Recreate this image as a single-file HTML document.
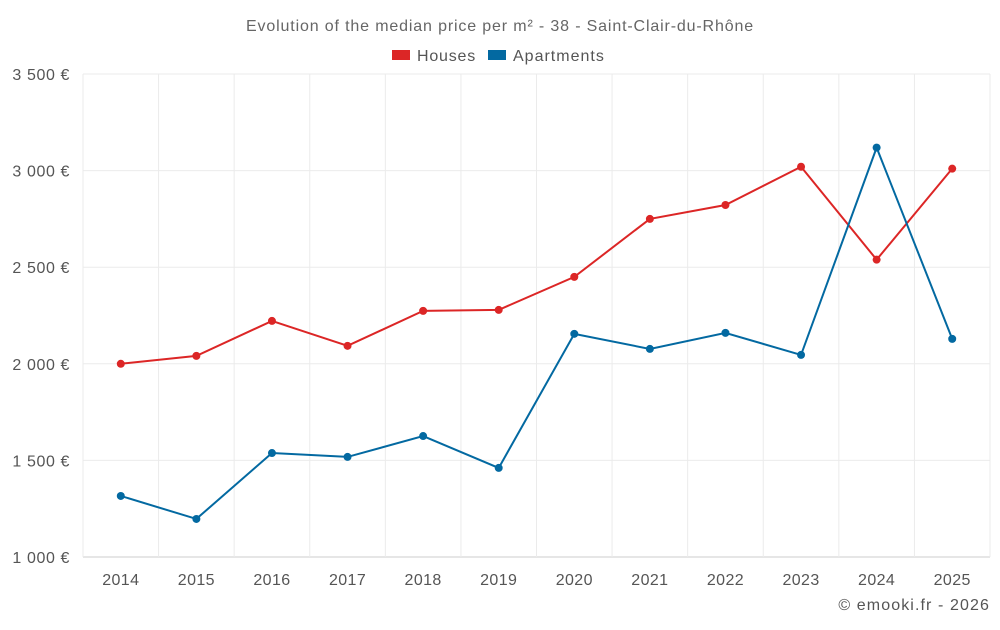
<!DOCTYPE html>
<html><head><meta charset="utf-8"><style>
body{margin:0;background:#fff;font-family:"Liberation Sans",sans-serif;}
svg text{font-family:"Liberation Sans",sans-serif;}
</style></head><body>
<svg id="chart" width="1000" height="625">
<text x="500" y="31" text-anchor="middle" font-size="16" letter-spacing="0.85" fill="#666">Evolution of the median price per m² - 38 - Saint-Clair-du-Rhône</text>
<g>
<g><rect x="392" y="50" width="18" height="10" fill="#dc2626"/><text x="417" y="61" font-size="16" letter-spacing="0.8" fill="#555">Houses</text></g>
<g><rect x="488" y="50" width="18" height="10" fill="#0369a1"/><text x="513" y="61" font-size="16" letter-spacing="1" fill="#555">Apartments</text></g>
</g>
<g id="grid"></g><g id="axes"></g><g id="series"></g>
<text x="990" y="610" text-anchor="end" font-size="16" letter-spacing="1.1" fill="#555">© emooki.fr - 2026</text>
</svg>
<script>
const years=[2014,2015,2016,2017,2018,2019,2020,2021,2022,2023,2024,2025];
const houses=[2000,2041,2222,2093,2274,2279,2450,2750,2822,3020,2539,3010];
const apartments=[1316,1197,1538,1518,1626,1461,2155,2077,2160,2046,3119,2129];
const yTicks=[1000,1500,2000,2500,3000,3500];
const yLabels=["1 000 €","1 500 €","2 000 €","2 500 €","3 000 €","3 500 €"];
const L=83,R=990,T=74,B=557,ymin=1000,ymax=3500;
const bw=(R-L)/years.length;
const x=i=>L+bw*(i+0.5);
const y=v=>B-(v-ymin)/(ymax-ymin)*(B-T);
const NS="http://www.w3.org/2000/svg";
function mk(p,tag,at){const e=document.createElementNS(NS,tag);for(const k in at)e.setAttribute(k,at[k]);p.appendChild(e);return e;}
const g=document.getElementById('grid'),a=document.getElementById('axes'),s=document.getElementById('series');
yTicks.forEach((t,i)=>{
 const l=mk(g,'line',{x1:L,x2:R,y1:y(t),y2:y(t),stroke:i==0?'#ccc':'#ebebeb'});
 
 
 const tx=mk(a,'text',{x:70,y:y(t)+6,'text-anchor':'end','font-size':16,'letter-spacing':0.6,fill:'#555'});tx.textContent=yLabels[i];
 
 
});
for(let i=0;i<=years.length;i++){
 const l=mk(g,'line',{x1:L+bw*i,x2:L+bw*i,y1:T,y2:B,stroke:'#ebebeb'});
 
 
}
years.forEach((yr,i)=>{
 const tx=mk(a,'text',{x:x(i),y:585,'text-anchor':'middle','font-size':16,'letter-spacing':0.4,fill:'#555'});tx.textContent=yr;
 
 
});
function series(d,c,n){
 const p=mk(s,'polyline',{points:d.map((v,i)=>x(i)+','+y(v)).join(' '),fill:'none',stroke:c,'stroke-width':2});
 
 
 d.forEach((v,i)=>{const ci=mk(s,'circle',{cx:x(i),cy:y(v),r:4,fill:c});
 
 });
}
series(houses,'#dc2626','houses');
series(apartments,'#0369a1','apartments');
</script>
</body></html>
